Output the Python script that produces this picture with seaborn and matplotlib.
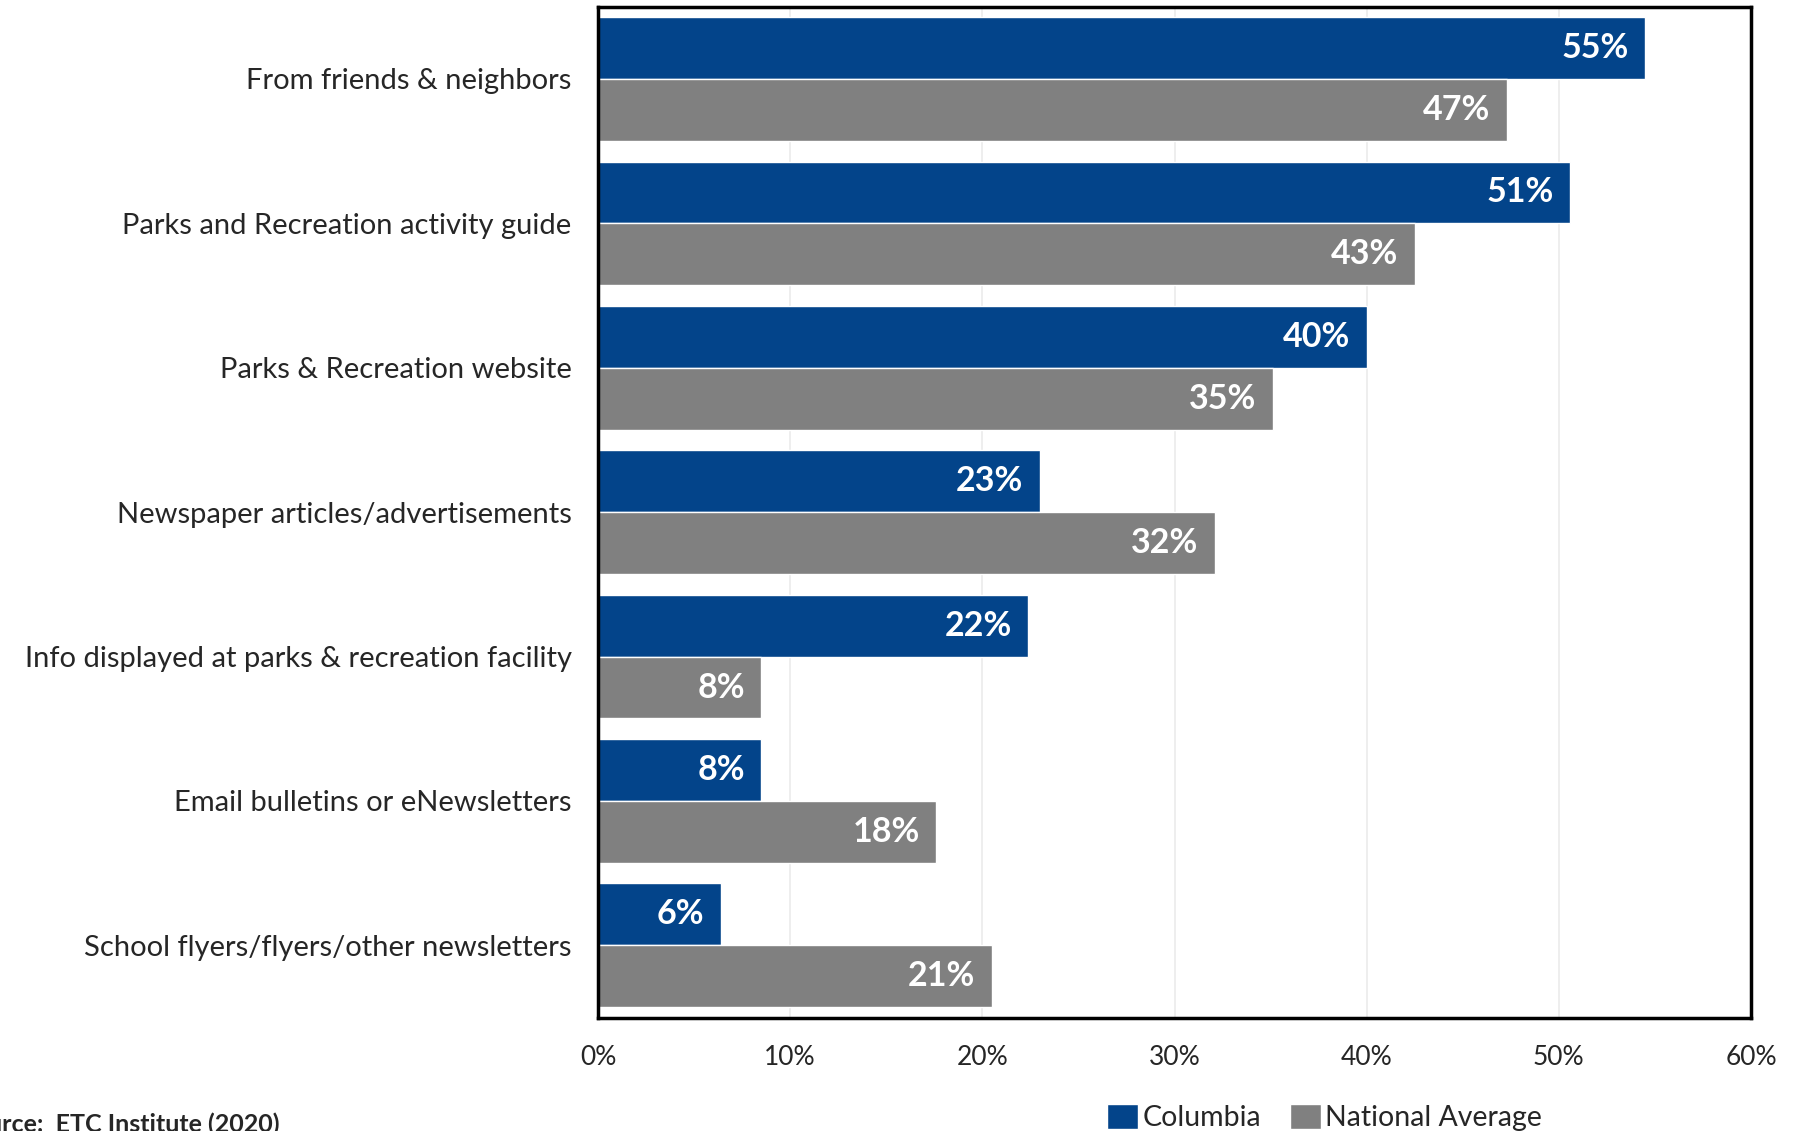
import pandas as pd
import matplotlib.pyplot as plt
import seaborn as sns

categories = [
    "From friends & neighbors",
    "Parks and Recreation activity guide",
    "Parks & Recreation website",
    "Newspaper articles/advertisements",
    "Info displayed at parks & recreation facility",
    "Email bulletins or eNewsletters",
    "School flyers/flyers/other newsletters",
]
columbia = [54.5, 50.6, 40.0, 23.0, 22.4, 8.5, 6.4]
national = [47.3, 42.5, 35.1, 32.1, 8.5, 17.6, 20.5]
columbia_labels = ["55%", "51%", "40%", "23%", "22%", "8%", "6%"]
national_labels = ["47%", "43%", "35%", "32%", "8%", "18%", "21%"]
series = ["Columbia", "National Average"]
colors = ["#03448A", "#808080"]
x_ticks = [0, 10, 20, 30, 40, 50, 60]

df = pd.DataFrame({
    "category": categories * 2,
    "value": columbia + national,
    "series": [series[0]] * len(categories) + [series[1]] * len(categories),
})

sns.set_theme(style="white")
plt.rcParams["font.family"] = ["Lato", "DejaVu Sans"]

fig = plt.figure(figsize=(17.97, 11.31), dpi=100)
ax = fig.add_axes([0.3328, 0.1003, 0.6416, 0.8937])

sns.barplot(data=df, y="category", x="value", hue="series", order=categories,
            hue_order=series, palette=colors, width=0.857, saturation=1,
            orient="h", ax=ax, legend=True)

# value labels inside the bar ends
for container, labels in zip(ax.containers, [columbia_labels, national_labels]):
    for bar, lab in zip(container, labels):
        ax.annotate(lab, (bar.get_width(), bar.get_y() + bar.get_height() / 2),
                    xytext=(-12, 0), textcoords="offset points",
                    ha="right", va="center", color="white",
                    fontsize=24.5, fontweight="bold")

ax.set_xlim(0, 60)
ax.set_xticks(x_ticks)
ax.set_xticklabels([f"{t}%" for t in x_ticks], fontsize=19)
ax.tick_params(axis="x", length=0, pad=20)
ax.tick_params(axis="y", length=0, pad=19, labelsize=21)
ax.set_xlabel("")
ax.set_ylabel("")
ax.xaxis.grid(True, color="#ebebeb", linewidth=1.2)
ax.set_axisbelow(True)
for s in ax.spines.values():
    s.set_visible(True)
    s.set_color("black")
    s.set_linewidth(2.5)

handles, labels = ax.get_legend_handles_labels()
ax.get_legend().remove()
fig.legend(handles, labels, loc="center", bbox_to_anchor=(0.737, 0.012), ncol=2,
           frameon=False, fontsize=20.5, handlelength=1.1, handleheight=1.0,
           handletextpad=0.15, columnspacing=1.0)

fig.text(-0.022, 0.016, "Source:  ETC Institute (2020)", ha="left", va="top",
         fontsize=18, fontweight="bold")

fig.savefig("out.png", dpi=100)
